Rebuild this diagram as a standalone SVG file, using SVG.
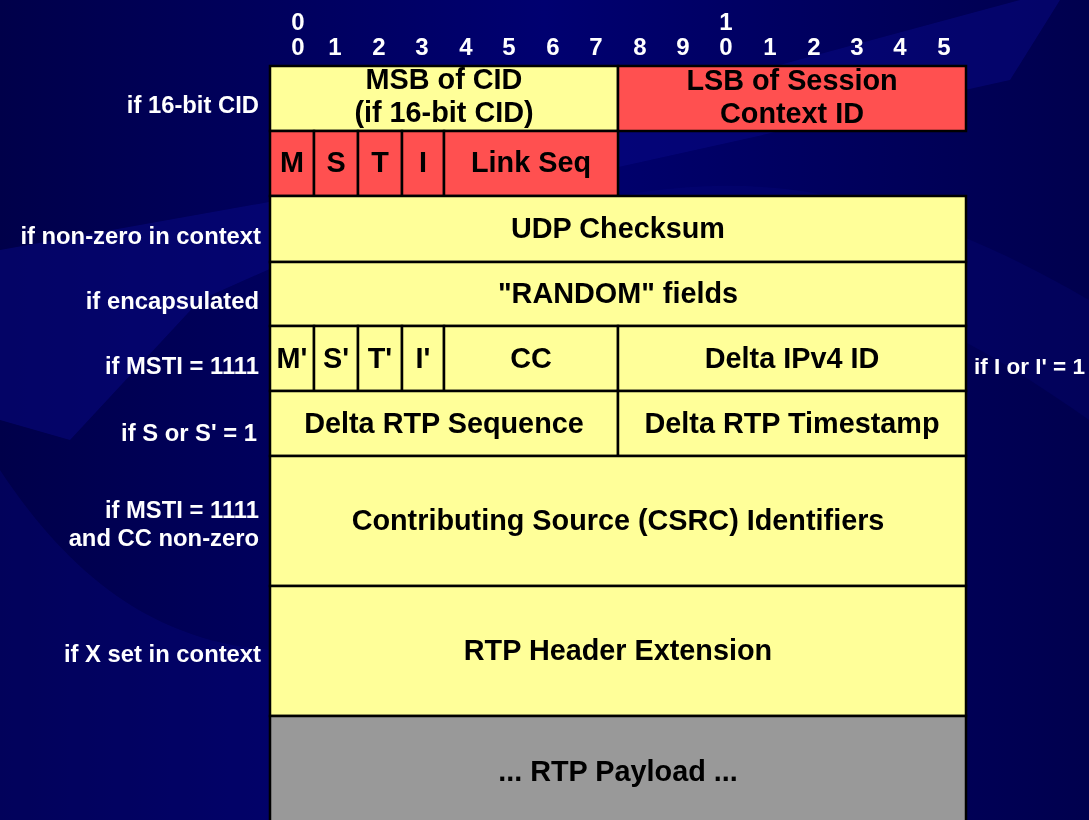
<svg xmlns="http://www.w3.org/2000/svg" width="1089" height="820" viewBox="0 0 1089 820">
<defs>
<linearGradient id="bg" x1="0" y1="0" x2="1" y2="0">
<stop offset="0" stop-color="#00004a"/>
<stop offset="0.5" stop-color="#000070"/>
<stop offset="1" stop-color="#00004e"/>
</linearGradient>
<style>
.bit{font-family:"Liberation Sans",Arial,sans-serif;font-weight:bold;font-size:24px;fill:#fff;text-anchor:middle}
.lab{font-family:"Liberation Sans",Arial,sans-serif;font-weight:bold;font-size:23.8px;fill:#fff;text-anchor:end}
.labr{font-family:"Liberation Sans",Arial,sans-serif;font-weight:bold;font-size:22.5px;fill:#fff;text-anchor:start}
.t{font-family:"Liberation Sans",Arial,sans-serif;font-weight:bold;font-size:28.8px;fill:#000;text-anchor:middle}
.y{fill:#ffff99;stroke:#000;stroke-width:2.5}
.r{fill:#ff5050;stroke:#000;stroke-width:2.5}
.g{fill:#999999;stroke:#000;stroke-width:2.5}
</style>
</defs>
<rect x="0" y="0" width="1089" height="820" fill="url(#bg)"/>
<g id="background-swooshes" fill="#0a0a8a" opacity="0.45">
<path d="M0 250 L280 200 L1020 0 L1060 0 L1010 80 L380 220 L200 300 L70 440 L0 420 Z"/>
<path d="M0 470 C60 560 140 640 270 650 L270 820 L0 820 Z" opacity="0.6"/>
<path d="M620 196 C760 170 900 190 1089 300 L1089 420 C920 300 780 250 620 250 Z" opacity="0.5"/>
</g>
<g id="bit-numbers">
<text class="bit" x="298" y="30">0</text>
<text class="bit" x="726" y="30">1</text>
<text class="bit" x="298" y="55">0</text>
<text class="bit" x="335" y="55">1</text>
<text class="bit" x="379" y="55">2</text>
<text class="bit" x="422" y="55">3</text>
<text class="bit" x="466" y="55">4</text>
<text class="bit" x="509" y="55">5</text>
<text class="bit" x="553" y="55">6</text>
<text class="bit" x="596" y="55">7</text>
<text class="bit" x="640" y="55">8</text>
<text class="bit" x="683" y="55">9</text>
<text class="bit" x="726" y="55">0</text>
<text class="bit" x="770" y="55">1</text>
<text class="bit" x="814" y="55">2</text>
<text class="bit" x="857" y="55">3</text>
<text class="bit" x="900" y="55">4</text>
<text class="bit" x="944" y="55">5</text>
</g>
<g id="side-labels">
<text class="lab" x="259" y="113">if 16-bit CID</text>
<text class="lab" x="261" y="244">if non-zero in context</text>
<text class="lab" x="259" y="309">if encapsulated</text>
<text class="lab" x="259" y="374">if MSTI = 1111</text>
<text class="lab" x="257" y="441">if S or S' = 1</text>
<text class="lab" x="259" y="518">if MSTI = 1111</text>
<text class="lab" x="259" y="546">and CC non-zero</text>
<text class="lab" x="261" y="662">if X set in context</text>
<text class="labr" x="974" y="374">if I or I' = 1</text>
</g>
<g id="row-cid">
<rect class="y" x="270" y="66" width="348" height="65"/>
<text class="t" x="444" y="89">MSB of CID</text>
<text class="t" x="444" y="122">(if 16-bit CID)</text>
<rect class="r" x="618" y="66" width="348" height="65"/>
<text class="t" x="792" y="90">LSB of Session</text>
<text class="t" x="792" y="123">Context ID</text>
</g>
<g id="row-msti">
<rect class="r" x="270" y="131" width="44" height="65"/>
<rect class="r" x="314" y="131" width="44" height="65"/>
<rect class="r" x="358" y="131" width="44" height="65"/>
<rect class="r" x="402" y="131" width="42" height="65"/>
<rect class="r" x="444" y="131" width="174" height="65"/>
<text class="t" x="292" y="172">M</text>
<text class="t" x="336" y="172">S</text>
<text class="t" x="380" y="172">T</text>
<text class="t" x="423" y="172">I</text>
<text class="t" x="531" y="172">Link Seq</text>
</g>
<g id="row-udp">
<rect class="y" x="270" y="196" width="696" height="66"/>
<text class="t" x="618" y="238">UDP Checksum</text>
</g>
<g id="row-random">
<rect class="y" x="270" y="262" width="696" height="64"/>
<text class="t" x="618" y="303">"RANDOM" fields</text>
</g>
<g id="row-msti2">
<rect class="y" x="270" y="326" width="44" height="65"/>
<rect class="y" x="314" y="326" width="44" height="65"/>
<rect class="y" x="358" y="326" width="44" height="65"/>
<rect class="y" x="402" y="326" width="42" height="65"/>
<rect class="y" x="444" y="326" width="174" height="65"/>
<rect class="y" x="618" y="326" width="348" height="65"/>
<text class="t" x="292" y="368">M'</text>
<text class="t" x="336" y="368">S'</text>
<text class="t" x="380" y="368">T'</text>
<text class="t" x="423" y="368">I'</text>
<text class="t" x="531" y="368">CC</text>
<text class="t" x="792" y="368">Delta IPv4 ID</text>
</g>
<g id="row-delta">
<rect class="y" x="270" y="391" width="348" height="65"/>
<rect class="y" x="618" y="391" width="348" height="65"/>
<text class="t" x="444" y="433">Delta RTP Sequence</text>
<text class="t" x="792" y="433">Delta RTP Timestamp</text>
</g>
<g id="row-csrc">
<rect class="y" x="270" y="456" width="696" height="130"/>
<text class="t" x="618" y="530">Contributing Source (CSRC) Identifiers</text>
</g>
<g id="row-ext">
<rect class="y" x="270" y="586" width="696" height="130"/>
<text class="t" x="618" y="660">RTP Header Extension</text>
</g>
<g id="row-payload">
<rect class="g" x="270" y="716" width="696" height="120"/>
<text class="t" x="618" y="781">... RTP Payload ...</text>
</g>
<g id="connectors"/>
</svg>
